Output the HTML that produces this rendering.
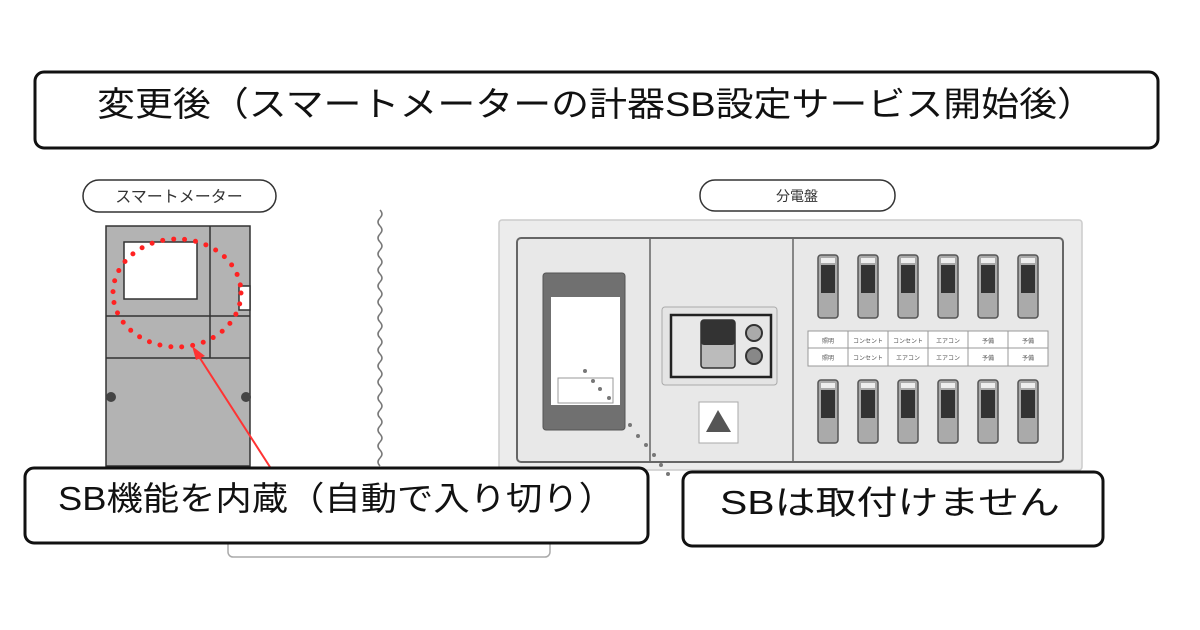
<!DOCTYPE html>
<html><head><meta charset="utf-8"><style>
body{margin:0;background:#fff;width:1200px;height:630px;overflow:hidden}
svg{display:block}
text{font-family:"Liberation Sans","Noto Sans CJK JP",sans-serif}
</style></head><body>
<svg width="1200" height="630" viewBox="0 0 1200 630" xmlns="http://www.w3.org/2000/svg">
<rect x="35" y="72" width="1123" height="76" rx="9" fill="#fff" stroke="#111" stroke-width="3"/>
<text x="97" y="116" font-size="34" fill="#111" textLength="998" lengthAdjust="spacingAndGlyphs">変更後（スマートメーターの計器SB設定サービス開始後）</text>

<rect x="83" y="180" width="193" height="32" rx="16" fill="#fff" stroke="#333" stroke-width="1.5"/>
<text x="179" y="202" font-size="16" text-anchor="middle" fill="#333">スマートメーター</text>
<rect x="700" y="180" width="195" height="31" rx="15" fill="#fff" stroke="#333" stroke-width="1.5"/>
<text x="797" y="201" font-size="14" text-anchor="middle" fill="#333">分電盤</text>

<!-- meter -->
<rect x="106" y="226" width="144" height="240" fill="#b3b3b3" stroke="#333" stroke-width="1.5"/>
<line x1="106" y1="316" x2="250" y2="316" stroke="#333" stroke-width="1.5"/>
<line x1="106" y1="358" x2="250" y2="358" stroke="#333" stroke-width="1.5"/>
<line x1="210" y1="226" x2="210" y2="358" stroke="#333" stroke-width="1.5"/>
<rect x="124" y="242" width="73" height="57" fill="#fff" stroke="#333" stroke-width="1.5"/>
<rect x="239" y="286" width="11" height="24" fill="#fff" stroke="#333" stroke-width="1.5"/>
<circle cx="111" cy="397" r="5" fill="#444"/><circle cx="246" cy="397" r="5" fill="#444"/>
<ellipse cx="177" cy="293" rx="64" ry="54" fill="none" stroke="#f22" stroke-width="5" stroke-dasharray="0 11" stroke-linecap="round"/>
<line x1="270" y1="467" x2="196" y2="352" stroke="#f33" stroke-width="2"/>
<polygon points="192,346 205,356 196,360" fill="#f33"/>

<!-- wavy -->
<path d="M380 210 q4 4 0 8 q-4 4 0 8 q4 4 0 8 q-4 4 0 8 q4 4 0 8 q-4 4 0 8 q4 4 0 8 q-4 4 0 8 q4 4 0 8 q-4 4 0 8 q4 4 0 8 q-4 4 0 8 q4 4 0 8 q-4 4 0 8 q4 4 0 8 q-4 4 0 8 q4 4 0 8 q-4 4 0 8 q4 4 0 8 q-4 4 0 8 q4 4 0 8 q-4 4 0 8 q4 4 0 8 q-4 4 0 8 q4 4 0 8 q-4 4 0 8 q4 4 0 8 q-4 4 0 8 q4 4 0 8 q-4 4 0 8 q4 4 0 8 q-4 4 0 8" fill="none" stroke="#777" stroke-width="1.5"/>

<!-- panel -->
<rect x="499" y="220" width="583" height="250" rx="3" fill="#ececec" stroke="#ccc" stroke-width="1.5"/>
<rect x="517" y="238" width="546" height="224" rx="4" fill="#e8e8e8" stroke="#666" stroke-width="2"/>
<line x1="650" y1="238" x2="650" y2="462" stroke="#666" stroke-width="1.5"/>
<line x1="793" y1="238" x2="793" y2="462" stroke="#666" stroke-width="1.5"/>
<rect x="543" y="273" width="82" height="157" rx="3" fill="#707070" stroke="#555"/>
<rect x="551" y="297" width="69" height="108" fill="#fff"/>
<rect x="558" y="378" width="55" height="25" fill="#fff" stroke="#999"/>
<g fill="#777"><circle cx="585" cy="371" r="2"/><circle cx="593" cy="381" r="2"/><circle cx="600" cy="389" r="2"/><circle cx="609" cy="398" r="2"/><circle cx="630" cy="425" r="2"/><circle cx="638" cy="436" r="2"/><circle cx="646" cy="445" r="2"/><circle cx="654" cy="455" r="2"/><circle cx="661" cy="465" r="2"/><circle cx="668" cy="474" r="2"/></g>
<rect x="662" y="307" width="115" height="78" rx="3" fill="#e4e4e4" stroke="#aaa"/>
<rect x="671" y="315" width="100" height="62" fill="#e8e8e8" stroke="#222" stroke-width="2.5"/>
<rect x="701" y="320" width="34" height="48" rx="3" fill="#bbb" stroke="#333" stroke-width="1.5"/>
<rect x="701" y="320" width="34" height="25" rx="3" fill="#333"/>
<circle cx="754" cy="333" r="8" fill="#aaa" stroke="#333" stroke-width="2"/>
<circle cx="754" cy="356" r="8" fill="#888" stroke="#333" stroke-width="2"/>
<rect x="699" y="402" width="39" height="41" fill="#fff" stroke="#aaa"/>
<polygon points="718,410 706,432 731,432" fill="#555"/>

<g id="brk">
<rect x="818" y="255" width="20" height="63" rx="3" fill="#aaa" stroke="#555" stroke-width="1.5"/>
<rect x="821" y="258" width="14" height="5" fill="#eee"/>
<rect x="821" y="265" width="14" height="28" fill="#333"/>
</g>
<use href="#brk" x="40"/><use href="#brk" x="80"/><use href="#brk" x="120"/><use href="#brk" x="160"/><use href="#brk" x="200"/>
<use href="#brk" y="125"/><use href="#brk" x="40" y="125"/><use href="#brk" x="80" y="125"/><use href="#brk" x="120" y="125"/><use href="#brk" x="160" y="125"/><use href="#brk" x="200" y="125"/>
<rect x="808" y="331" width="240" height="35" fill="#fff" stroke="#999"/>
<line x1="808" y1="348" x2="1048" y2="348" stroke="#999"/>
<g stroke="#999"><line x1="848" y1="331" x2="848" y2="366"/><line x1="888" y1="331" x2="888" y2="366"/><line x1="928" y1="331" x2="928" y2="366"/><line x1="968" y1="331" x2="968" y2="366"/><line x1="1008" y1="331" x2="1008" y2="366"/></g>
<g font-size="6" fill="#555" text-anchor="middle">
<text x="828" y="343">照明</text><text x="868" y="343">コンセント</text><text x="908" y="343">コンセント</text><text x="948" y="343">エアコン</text><text x="988" y="343">予備</text><text x="1028" y="343">予備</text>
<text x="828" y="360">照明</text><text x="868" y="360">コンセント</text><text x="908" y="360">エアコン</text><text x="948" y="360">エアコン</text><text x="988" y="360">予備</text><text x="1028" y="360">予備</text>
</g>

<!-- bottom -->
<rect x="228" y="520" width="322" height="37" rx="5" fill="#fff" stroke="#aaa" stroke-width="1.5"/>
<rect x="25" y="468" width="623" height="75" rx="9" fill="#fff" stroke="#111" stroke-width="3"/>
<text x="58" y="510" font-size="33" fill="#111" textLength="557" lengthAdjust="spacingAndGlyphs">SB機能を内蔵（自動で入り切り）</text>
<rect x="683" y="472" width="420" height="74" rx="9" fill="#fff" stroke="#111" stroke-width="3"/>
<text x="720" y="514" font-size="33" fill="#111" textLength="340" lengthAdjust="spacingAndGlyphs">SBは取付けません</text>
</svg>
</body></html>
